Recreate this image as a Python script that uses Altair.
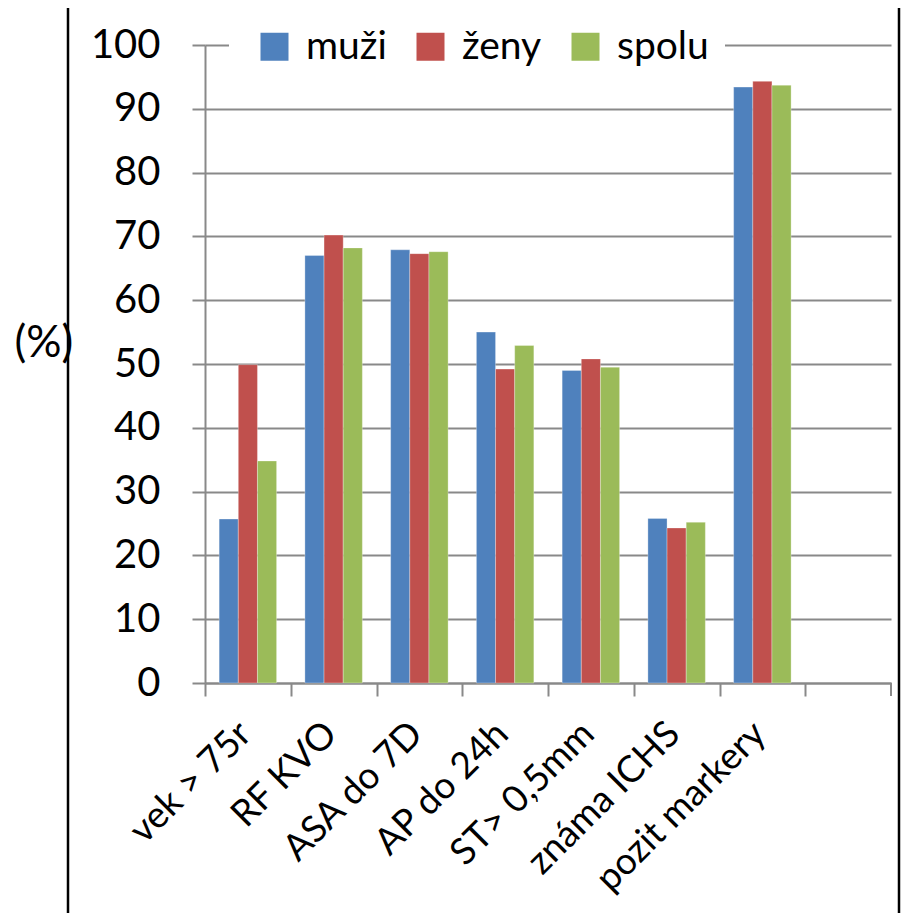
import altair as alt
import pandas as pd

kategorie = ["vek > 75r", "RF KVO", "ASA do 7D", "AP do 24h", "ST> 0,5mm", "známa ICHS", "pozit markery"]
prazdna = " "
serie = ["muži", "ženy", "spolu"]
muzi = [25.7, 67.0, 67.9, 55.0, 49.0, 25.8, 93.4]
zeny = [49.9, 70.2, 67.3, 49.2, 50.8, 24.3, 94.3]
spolu = [34.8, 68.2, 67.6, 52.9, 49.5, 25.2, 93.7]
farby = ["#4F81BD", "#C0504D", "#9BBB59"]
y_ticks = list(range(0, 101, 10))

rows = []
for s, vals in zip(serie, [muzi, zeny, spolu]):
    for k, v in zip(kategorie, vals):
        rows.append({"kat": k, "serie": s, "hodnota": v})
df = pd.DataFrame(rows)

W, H = 686, 638
step = W / 8.0
FONT = "Lato"
GRAY = "#898989"
domain = kategorie + [prazdna]

bars = alt.Chart(df).mark_bar(stroke="#ffffff", strokeWidth=0.6, strokeOpacity=0.5).encode(
    x=alt.X("kat:N", sort=domain,
            scale=alt.Scale(domain=domain, paddingInner=0.33, paddingOuter=0.165),
            axis=alt.Axis(title=None, labelAngle=-45, labelAlign="right", labelBaseline="middle",
                          labelFontSize=37, labelFont=FONT, labelColor="black", labelLimit=0,
                          labelPadding=32, tickOffset=-step / 2, labelOffset=step / 2 - 3,
                          tickSize=13, tickColor=GRAY, tickWidth=2,
                          domainColor=GRAY, domainWidth=2, grid=False)),
    xOffset=alt.XOffset("serie:N", sort=serie, scale=alt.Scale(domain=serie)),
    y=alt.Y("hodnota:Q", scale=alt.Scale(domain=[0, 100], nice=False),
            axis=alt.Axis(values=y_ticks, title="(%)", titleAngle=0, titleX=-191, titleY=298,
                          titleAlign="left", titleBaseline="middle", titleFontSize=44,
                          titleFont=FONT, titleFontWeight="normal", titleColor="black",
                          labelFontSize=40, labelFont=FONT, labelColor="black", labelPadding=32,
                          tickSize=13, tickColor=GRAY, tickWidth=2,
                          domainColor=GRAY, domainWidth=2,
                          grid=True, gridColor=GRAY, gridWidth=2)),
    color=alt.Color("serie:N", sort=serie, scale=alt.Scale(domain=serie, range=farby),
                    legend=alt.Legend(title=None, orient="none", direction="horizontal",
                                      legendX=34, legendY=-34, padding=16, fillColor="white",
                                      symbolType="square", symbolSize=784, symbolStrokeWidth=0,
                                      labelFontSize=39, labelFont=FONT, labelColor="black",
                                      labelOffset=12, columnPadding=24)),
)

one = pd.DataFrame({"a": [0]})
gap_cover = alt.Chart(one).mark_rule(color="white", strokeWidth=4).encode(
    x=alt.value(24), x2=alt.value(36), y=alt.value(0))
end_tick = alt.Chart(one).mark_rule(color=GRAY, strokeWidth=2).encode(
    x=alt.value(W), y=alt.value(H), y2=alt.value(H + 13))
frame_left = alt.Chart(one).mark_rule(color="black", strokeWidth=2.5).encode(
    x=alt.value(-137), y=alt.value(-42), y2=alt.value(H + 300))
frame_top = alt.Chart(one).mark_rule(color="black", strokeWidth=2.5).encode(
    x=alt.value(-137), x2=alt.value(694), y=alt.value(-42))
frame_right = alt.Chart(one).mark_rule(color="black", strokeWidth=2.5).encode(
    x=alt.value(694), y=alt.value(-42), y2=alt.value(H + 300))

chart = alt.layer(bars, gap_cover, end_tick, frame_left, frame_top, frame_right).properties(
    width=W, height=H,
    autosize=alt.AutoSizeParams(type="none"),
    padding={"left": 197, "top": 37, "right": 10, "bottom": 230},
).configure_view(stroke=None)

chart.save("out.html", embed_options={"renderer": "svg", "actions": False})
